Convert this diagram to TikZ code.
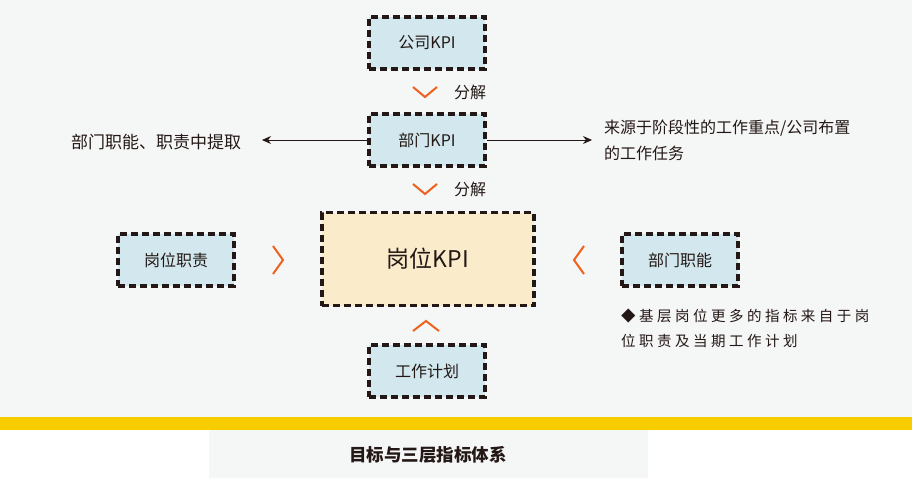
\documentclass[tikz,border=0pt]{standalone}
\usepackage{fontspec}
\setmainfont{Noto Sans CJK SC}
\usetikzlibrary{arrows.meta}
\definecolor{bggray}{HTML}{F5F6F6}
\definecolor{boxblue}{HTML}{D2E8EE}
\definecolor{boxbeige}{HTML}{FAEBCB}
\definecolor{ink}{HTML}{231815}
\definecolor{chev}{HTML}{F0601E}
\definecolor{band}{HTML}{F8CD00}
\tikzset{
  kpibox/.style={draw=ink, line width=3.2pt, dash pattern=on 7pt off 4pt, fill=boxblue,
    minimum width=116pt, minimum height=52pt, inner sep=0pt, text=ink, font=\fontsize{16}{16}\selectfont},
  bigbox/.style={draw=ink, line width=3.2pt, dash pattern=on 7pt off 4pt, fill=boxbeige,
    minimum width=212pt, minimum height=93pt, inner sep=0pt, text=ink, font=\fontsize{23}{23}\selectfont},
  plain/.style={text=ink, inner sep=0pt, font=\fontsize{16}{16}\selectfont},
  chevron/.style={draw=chev, line width=2pt, line cap=butt, line join=miter},
  conn/.style={draw=ink, line width=0.9pt, -{Stealth[length=9pt,width=8pt]}}
}
\begin{document}
\begin{tikzpicture}[x=1pt,y=-1pt]
\useasboundingbox (0,0) rectangle (912,482);
\fill[bggray] (0,0) rectangle (912,417);
\fill[band] (0,417) rectangle (912,430);
\fill[white] (0,430) rectangle (912,482);
\fill[bggray] (209,430) rectangle (648,478);
\node[plain, font=\fontsize{17.5}{18}\selectfont\bfseries] (cap) at (428,455) {目标与三层指标体系};

\node[kpibox] (gs) at (427,43) {公司KPI};
\node[kpibox] (bm) at (427,140) {部门KPI};
\node[bigbox] (gw) at (428,259) {岗位KPI};
\node[kpibox] (zz) at (176,260) {岗位职责};
\node[kpibox] (zn) at (680,260) {部门职能};
\node[kpibox] (jh) at (427,371) {工作计划};

% chevrons
\draw[chevron] (413,87) -- (425,97) -- (437,87);
\node[plain] (fj1) at (470,92) {分解};
\draw[chevron] (413,184) -- (425,194) -- (437,184);
\node[plain] (fj2) at (470,189) {分解};
\draw[chevron] (273,246) -- (283,260) -- (273,274);
\draw[chevron] (584,246) -- (574,260) -- (584,274);
\draw[chevron] (413,331) -- (426,321) -- (439,331);

% side arrows
\coordinate (lt) at (262,140);
\coordinate (rt) at (592,140);
\draw[conn] (bm.west) -- (lt);
\draw[conn] (bm.east) -- (rt);
\node[plain, anchor=west, font=\fontsize{17}{17}\selectfont] (ltx) at (71,142) {部门职能、职责中提取};
\node[plain, anchor=north west, align=left, font=\fontsize{16}{26}\selectfont] (rtx) at (604,120) {来源于阶段性的工作重点/公司布置\\的工作任务};

% note
\node[plain, anchor=north west, align=left, font=\fontsize{14.5}{25}\selectfont\addfontfeature{LetterSpace=24}] (note) at (621,309) {◆基层岗位更多的指标来自于岗\\位职责及当期工作计划};
\end{tikzpicture}
\end{document}
